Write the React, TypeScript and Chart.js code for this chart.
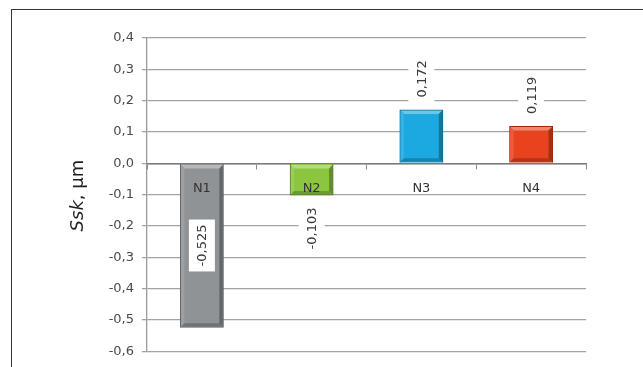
import React, { useEffect, useRef } from "react";
import { Chart, registerables } from "chart.js";

Chart.register(...registerables);

// Surface skewness per sample
const CATEGORIES = ["N1", "N2", "N3", "N4"];
const SSK_VALUES = [-0.525, -0.103, 0.172, 0.119];
const BAR_COLORS = ["#8f9396", "#8cc63f", "#1ca8e0", "#e8431f"];
const BAR_EDGES = ["#5f6265", "#55802a", "#0e6a96", "#98290f"];
// where each value label sits: inside the bar or past its end
const LABEL_PLACES = ["center", "end", "end", "end"];
const Y_MIN = -0.6;
const Y_MAX = 0.4;
const Y_STEP = 0.1;
const AXIS_TITLE_ITALIC = "Ssk";
const AXIS_TITLE_REST = ", µm";

const FONT = '"DejaVu Sans", "Liberation Sans", sans-serif';

const comma = (v: number, digits: number) => {
  const n = Math.abs(v) < 1e-9 ? 0 : v;
  return n.toFixed(digits).replace(".", ",");
};

const shade = (hex: string, amt: number) => {
  const n = parseInt(hex.slice(1), 16);
  const ch = [(n >> 16) & 255, (n >> 8) & 255, n & 255].map((c) =>
    Math.round(amt >= 0 ? c + (255 - c) * amt : c * (1 + amt))
  );
  return `rgb(${ch[0]},${ch[1]},${ch[2]})`;
};

// Soft bevel on each bar: light top and left edges, dark right and bottom edges
const barBevel = {
  id: "barBevel",
  afterDatasetsDraw(chart: any) {
    const meta = chart.getDatasetMeta(0);
    const ctx = chart.ctx as CanvasRenderingContext2D;
    ctx.save();
    meta.data.forEach((bar: any, i: number) => {
      const base = BAR_COLORS[i];
      const l = bar.x - bar.width / 2 + 1;
      const r = bar.x + bar.width / 2 - 1;
      const t = Math.min(bar.y, bar.base) + 1;
      const b = Math.max(bar.y, bar.base) - 1;
      const d = 3.5;
      const poly = (pts: number[][], color: string) => {
        ctx.beginPath();
        ctx.moveTo(pts[0][0], pts[0][1]);
        for (let k = 1; k < pts.length; k++) ctx.lineTo(pts[k][0], pts[k][1]);
        ctx.closePath();
        ctx.fillStyle = color;
        ctx.fill();
      };
      poly([[l, t], [r, t], [r - d, t + d], [l + d, t + d]], shade(base, 0.35));
      poly([[l, t], [l + d, t + d], [l + d, b - d], [l, b]], shade(base, 0.12));
      poly([[r, t], [r, b], [r - d, b - d], [r - d, t + d]], shade(base, -0.3));
      poly([[l, b], [l + d, b - d], [r - d, b - d], [r, b]], shade(base, -0.22));
    });
    ctx.restore();
  },
};

// Rotated value labels on white boxes
const valueLabels = {
  id: "valueLabels",
  afterDatasetsDraw(chart: any) {
    const meta = chart.getDatasetMeta(0);
    const ctx = chart.ctx as CanvasRenderingContext2D;
    const zeroY = chart.scales.y.getPixelForValue(0);
    ctx.save();
    ctx.font = `13px ${FONT}`;
    ctx.textAlign = "center";
    ctx.textBaseline = "middle";
    meta.data.forEach((bar: any, i: number) => {
      const v = SSK_VALUES[i];
      const text = comma(v, 3);
      const w = ctx.measureText(text).width;
      const gap = 12;
      let cy: number;
      if (LABEL_PLACES[i] === "center") cy = (bar.y + zeroY) / 2;
      else cy = v >= 0 ? bar.y - gap - w / 2 : bar.y + gap + w / 2;
      ctx.save();
      ctx.translate(bar.x, cy);
      ctx.rotate(-Math.PI / 2);
      ctx.fillStyle = "#ffffff";
      ctx.fillRect(-w / 2 - 5, -13, w + 10, 26);
      ctx.fillStyle = "#3a3a3a";
      ctx.fillText(text, 0, 1);
      ctx.restore();
    });
    ctx.restore();
  },
};

// Y axis title with an italic symbol
const axisTitle = {
  id: "axisTitle",
  afterDraw(chart: any) {
    const ctx = chart.ctx as CanvasRenderingContext2D;
    const area = chart.chartArea;
    const cy = (area.top + area.bottom) / 2 + 1;
    ctx.save();
    const italic = `italic 18px ${FONT}`;
    const normal = `18px ${FONT}`;
    ctx.font = italic;
    const w1 = ctx.measureText(AXIS_TITLE_ITALIC).width;
    ctx.font = normal;
    const w2 = ctx.measureText(AXIS_TITLE_REST).width;
    ctx.translate(83, cy);
    ctx.rotate(-Math.PI / 2);
    ctx.fillStyle = "#1e1e1e";
    ctx.textBaseline = "alphabetic";
    ctx.textAlign = "left";
    const start = -(w1 + w2) / 2;
    ctx.font = italic;
    ctx.fillText(AXIS_TITLE_ITALIC, start, 0);
    ctx.font = normal;
    ctx.fillText(AXIS_TITLE_REST, start + w1, 0);
    ctx.restore();
  },
};

export default function App() {
  const canvasRef = useRef<HTMLCanvasElement | null>(null);

  useEffect(() => {
    document.body.style.margin = "0";
    const canvas = canvasRef.current;
    if (!canvas) return;
    const chart = new Chart(canvas, {
      type: "bar",
      data: {
        labels: CATEGORIES,
        datasets: [
          {
            data: SSK_VALUES,
            backgroundColor: BAR_COLORS,
            borderColor: BAR_EDGES,
            borderWidth: 1.5,
            categoryPercentage: 0.8,
            barPercentage: 0.5,
          },
        ],
      },
      options: {
        responsive: false,
        animation: false,
        devicePixelRatio: 1,
        layout: { padding: { left: 0, top: 38, right: 57, bottom: 15 } },
        plugins: {
          legend: { display: false },
          tooltip: { enabled: false },
        },
        scales: {
          x: {
            position: { y: 0 } as any,
            grid: {
              display: true,
              drawOnChartArea: false,
              drawTicks: true,
              tickLength: 5,
              color: "#8a8a8a",
              offset: true,
            },
            border: { display: true, color: "#7a7a7a", width: 1.5 },
            ticks: {
              z: 1,
              padding: 13,
              color: "#333333",
              font: { family: FONT, size: 13 },
            },
          },
          y: {
            min: Y_MIN,
            max: Y_MAX,
            afterFit(scale: any) {
              scale.width = 147;
            },
            ticks: {
              stepSize: Y_STEP,
              padding: 8,
              color: "#4a4a4a",
              font: { family: FONT, size: 13 },
              callback: (v: any) => comma(Number(v), 1),
            },
            grid: {
              color: "#a3a3a3",
              lineWidth: 1.3,
              tickLength: 5,
            },
            border: { display: true, color: "#9a9a9a", width: 1.3 },
          },
        },
      },
      plugins: [barBevel, valueLabels, axisTitle],
    });
    return () => chart.destroy();
  }, []);

  return (
    <div style={{ position: "relative", width: 643, height: 367, background: "#fff" }}>
      <canvas ref={canvasRef} width={643} height={367} style={{ display: "block" }} />
      <div
        style={{
          position: "absolute",
          left: 11,
          top: 9,
          right: 0,
          bottom: 0,
          borderLeft: "1.5px solid #353535",
          borderTop: "1.5px solid #353535",
          pointerEvents: "none",
        }}
      />
    </div>
  );
}
